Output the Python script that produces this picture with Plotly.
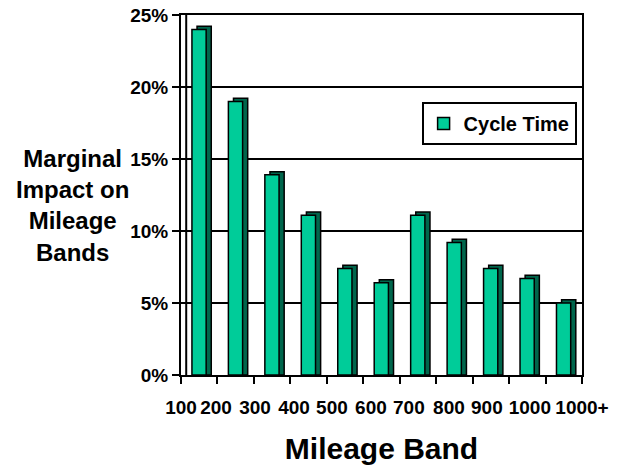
import plotly.graph_objects as go

# ---- data ----
bands = ["100", "200", "300", "400", "500", "600", "700", "800", "900", "1000", "1000+"]
cycle_time = [0.240, 0.190, 0.139, 0.111, 0.074, 0.064, 0.111, 0.092, 0.074, 0.067, 0.050]
y_ticks = [0, 0.05, 0.10, 0.15, 0.20, 0.25]

# ---- layout helpers (positions / styles) ----
idx = list(range(len(cycle_time)))
boundaries = [i - 0.5 for i in range(len(cycle_time) + 1)]
label_pos = [-0.5, 0.46, 1.53, 2.60, 3.64, 4.71, 5.75, 6.85, 7.89, 9.07, 10.5]
depth = 0.0022

FONT = "Liberation Sans, Arial, sans-serif"
FRONT = "#00CC99"
SIDE = "#00664C"

fig = go.Figure()
# dark depth (side/top) behind the front face
fig.add_trace(go.Bar(
    x=idx, y=[v + depth for v in cycle_time],
    width=0.39, offset=-0.06,
    marker=dict(color=SIDE, line=dict(color="black", width=1.5)),
    showlegend=False, hoverinfo="skip"))
# front face
fig.add_trace(go.Bar(
    x=idx, y=cycle_time, name="Cycle Time",
    width=0.39, offset=-0.20,
    marker=dict(color=FRONT, line=dict(color="black", width=1.5))))

fig.update_layout(
    width=629, height=465,
    margin=dict(l=181, r=47, t=15, b=90),
    paper_bgcolor="white", plot_bgcolor="white",
    barmode="overlay",
    font=dict(family=FONT, color="black"),
    legend=dict(
        x=0.60, y=0.758, xanchor="left", yanchor="top",
        bordercolor="black", borderwidth=2, bgcolor="white",
        font=dict(size=20, family=FONT, weight="bold", color="black"),
        itemwidth=30, tracegroupgap=0),
    xaxis=dict(
        range=[-0.5, 10.5], automargin=False,
        tickmode="array", tickvals=label_pos, ticktext=bands,
        ticks="", ticklabelstandoff=14,
        tickfont=dict(size=19, family=FONT, weight="bold", color="black"),
        minor=dict(tickmode="array", tickvals=boundaries, ticks="outside",
                   ticklen=7, tickwidth=2, tickcolor="black", showgrid=False),
        showgrid=False, zeroline=False,
        showline=True, linecolor="black", linewidth=2, mirror=True,
        title=dict(text="Mileage Band", standoff=27,
                   font=dict(size=30, family=FONT, weight="bold", color="black")),
    ),
    yaxis=dict(
        range=[0, 0.25], automargin=False,
        tickmode="array", tickvals=y_ticks, tickformat=".0%",
        ticks="outside", ticklen=7, tickwidth=2, tickcolor="black",
        tickfont=dict(size=19, family=FONT, weight="bold", color="black"),
        showgrid=True, gridcolor="black", gridwidth=2,
        zeroline=False,
        showline=True, linecolor="black", linewidth=2, mirror=True,
    ),
    shapes=[dict(type="line", xref="x domain", yref="y domain",
                 x0=0.013, x1=0.013, y0=0, y1=1,
                 line=dict(color="black", width=2))],
    annotations=[dict(
        text="Marginal<br>Impact on<br>Mileage<br>Bands",
        xref="paper", yref="paper", x=-0.27, y=0.47,
        xanchor="center", yanchor="middle", align="center", showarrow=False,
        font=dict(size=24, family=FONT, weight="bold", color="black"))],
)

fig.write_html("out.html")
